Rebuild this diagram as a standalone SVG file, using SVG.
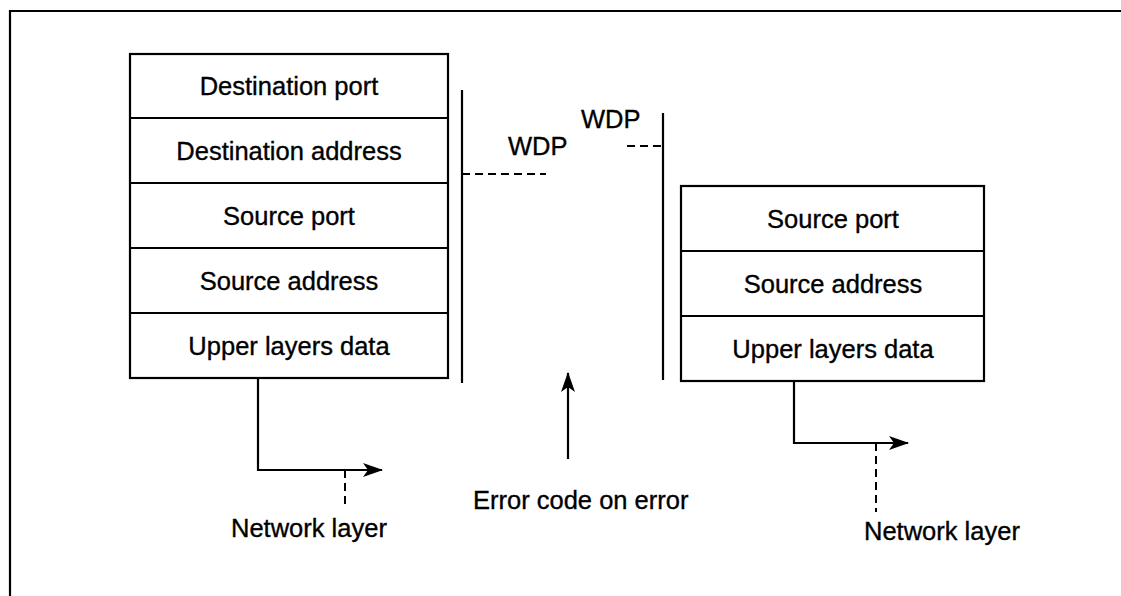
<svg xmlns="http://www.w3.org/2000/svg" width="1121" height="596" viewBox="0 0 1121 596">
<defs>
<marker id="ah" markerWidth="20" markerHeight="14" refX="19" refY="7" orient="auto" markerUnits="userSpaceOnUse">
<path d="M0,0 L20,7 L0,14 L5,7 Z" fill="#000"/>
</marker>
<style>
.box{fill:#fff;stroke:#000;stroke-width:2.2}
.ln{fill:none;stroke:#000;stroke-width:2.2}
.dash{fill:none;stroke:#000;stroke-width:2;stroke-dasharray:8 5}
.t{font-family:"Liberation Sans",Arial,sans-serif;font-size:25.5px;fill:#000;stroke:#000;stroke-width:0.35}
.c{text-anchor:middle}
</style>
</defs>
<rect width="1121" height="596" fill="#fff"/>
<g id="frame">
<path d="M10,596 L10,11 L1121,11" class="ln" stroke-width="2.6"/>
</g>
<g id="left-packet">
<rect x="130" y="54" width="318" height="324" class="box"/>
<line x1="130" y1="118" x2="448" y2="118" class="ln"/>
<line x1="130" y1="183" x2="448" y2="183" class="ln"/>
<line x1="130" y1="248" x2="448" y2="248" class="ln"/>
<line x1="130" y1="313" x2="448" y2="313" class="ln"/>
<text x="289" y="95" class="t c">Destination port</text>
<text x="289" y="160" class="t c">Destination address</text>
<text x="289" y="225" class="t c">Source port</text>
<text x="289" y="290" class="t c">Source address</text>
<text x="289" y="355" class="t c">Upper layers data</text>
</g>
<g id="right-packet">
<rect x="681" y="186" width="303" height="195" class="box"/>
<line x1="681" y1="251" x2="984" y2="251" class="ln"/>
<line x1="681" y1="316" x2="984" y2="316" class="ln"/>
<text x="833" y="228" class="t c">Source port</text>
<text x="833" y="293" class="t c">Source address</text>
<text x="833" y="358" class="t c">Upper layers data</text>
</g>
<g id="wdp-left">
<line x1="462" y1="90" x2="462" y2="383" class="ln"/>
<text x="508" y="155" class="t">WDP</text>
</g>
<g id="wdp-right">
<line x1="663" y1="113" x2="663" y2="380" class="ln"/>
<text x="581" y="128" class="t">WDP</text>
</g>
<g id="labels">
<text x="231" y="537" class="t">Network layer</text>
<text x="864" y="540" class="t">Network layer</text>
<text x="473" y="509" class="t">Error code on error</text>
</g>
<g id="connectors">
<line x1="462" y1="174" x2="546" y2="174" class="dash"/>
<line x1="627" y1="146" x2="663" y2="146" class="dash"/>
<path d="M258,378 L258,470 L382,470" class="ln" marker-end="url(#ah)"/>
<line x1="345" y1="470" x2="345" y2="508" class="dash"/>
<path d="M794,381 L794,443 L908,443" class="ln" marker-end="url(#ah)"/>
<line x1="876" y1="443" x2="876" y2="512" class="dash"/>
<line x1="568" y1="459" x2="568" y2="373" class="ln" marker-end="url(#ah)"/>
</g>
</svg>
